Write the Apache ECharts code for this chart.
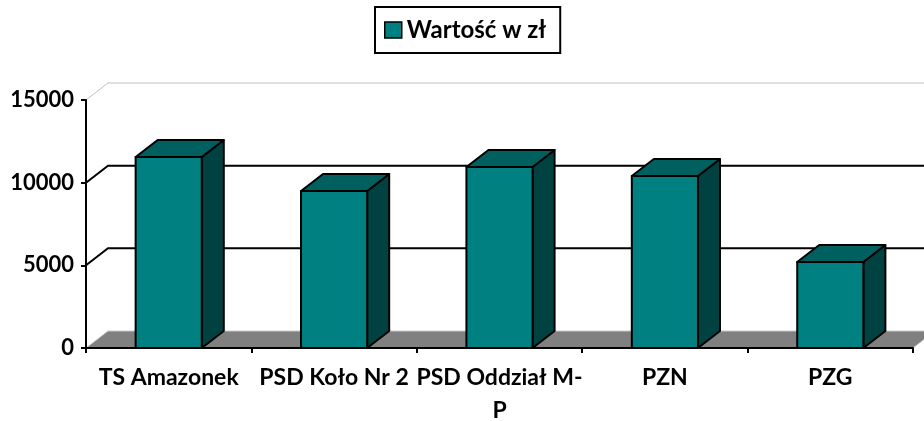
<!DOCTYPE html>
<html lang="pl">

<head>
  <meta charset="UTF-8">
  <title>Wartość w zł</title>
  <style>
    html, body { margin: 0; padding: 0; background: #fff; }
    #chart { width: 924px; height: 421px; }
  </style>
</head>

<body>
  <div id="chart"></div>

  <script src="https://cdn.jsdelivr.net/npm/echarts@6/dist/echarts.min.js"></script>
  <script>
    var categories = ['TS Amazonek', 'PSD Koło Nr 2', 'PSD Oddział M-P', 'PZN', 'PZG'];
    var values = [11550, 9500, 10950, 10400, 5200];
    var yTicks = [0, 5000, 10000, 15000];
    var seriesName = 'Wartość w zł';

    // depth of the fake 3d box, px
    var DX = 22, DY = -17;
    var FONT = 'Lato, "Open Sans", sans-serif';

    var chart = echarts.init(document.getElementById('chart'));

    function renderWalls(params, api) {
      var cs = params.coordSys;
      var L = cs.x, R = cs.x + cs.width;
      var kids = [];
      var y0 = api.coord([0, 0])[1];
      // floor
      kids.push({
        type: 'polygon',
        shape: { points: [[L, y0], [R, y0], [R + DX, y0 + DY], [L + DX, y0 + DY]] },
        style: { fill: '#808080', stroke: '#c8c8c8', lineWidth: 1 }
      });
      for (var i = 1; i < yTicks.length; i++) {
        var y = api.coord([0, yTicks[i]])[1];
        var last = i === yTicks.length - 1;
        kids.push({
          type: 'polyline',
          shape: { points: [[L, y], [L + DX, y + DY], [R + DX + 30, y + DY]] },
          style: { fill: null, stroke: last ? '#c0c0c0' : '#000', lineWidth: last ? 1 : 2 }
        });
      }
      return { type: 'group', children: kids };
    }

    function renderBar(params, api) {
      var c = api.coord([api.value(0), api.value(1)]);
      var b = api.coord([api.value(0), 0]);
      var w = api.size([1, 0])[0] * 0.4;
      var x = c[0] - w / 2, top = c[1], bot = b[1];
      var line = { stroke: '#000', lineWidth: 2, lineJoin: 'round' };
      return {
        type: 'group',
        children: [
          {
            type: 'polygon',
            shape: { points: [[x + w, top], [x + w + DX, top + DY], [x + w + DX, bot + DY], [x + w, bot]] },
            style: Object.assign({ fill: '#004242' }, line)
          },
          {
            type: 'polygon',
            shape: { points: [[x, top], [x + w, top], [x + w + DX, top + DY], [x + DX, top + DY]] },
            style: Object.assign({ fill: '#005f5f' }, line)
          },
          {
            type: 'rect',
            shape: { x: x, y: top, width: w, height: bot - top },
            style: Object.assign({ fill: '#008080' }, line)
          }
        ]
      };
    }

    var option = {
      animation: false,
      legend: {
        data: [seriesName],
        selectedMode: false,
        left: 375,
        top: 7,
        padding: [11, 14, 11, 9],
        borderColor: '#000',
        borderWidth: 2,
        icon: 'rect',
        itemWidth: 17,
        itemHeight: 16,
        itemStyle: { color: '#008080', borderColor: '#000', borderWidth: 1.5 },
        textStyle: { fontFamily: FONT, fontWeight: 'bold', fontSize: 24, color: '#000' }
      },
      grid: {
        left: 86,
        right: 11,
        top: 100,
        bottom: 73,
        outerBoundsMode: 'none'
      },
      xAxis: {
        type: 'category',
        data: categories,
        z: 10,
        axisLine: { lineStyle: { color: '#000', width: 2 } },
        axisTick: { show: true, length: 5, lineStyle: { color: '#000', width: 2 } },
        axisLabel: {
          interval: 0,
          margin: 13,
          color: '#000',
          fontFamily: FONT,
          fontWeight: 'bold',
          fontSize: 23,
          lineHeight: 33,
          formatter: function (v) { return v.replace('M-P', 'M-\nP'); }
        }
      },
      yAxis: {
        type: 'value',
        min: yTicks[0],
        max: yTicks[yTicks.length - 1],
        interval: 5000,
        z: 10,
        axisLine: { show: true, lineStyle: { color: '#000', width: 2 } },
        axisTick: { show: true, length: 5, lineStyle: { color: '#000', width: 2 } },
        splitLine: { show: false },
        axisLabel: {
          margin: 12,
          color: '#000',
          fontFamily: FONT,
          fontWeight: 'bold',
          fontSize: 22,
          formatter: function (v) { return String(v); }
        }
      },
      series: [
        {
          name: 'walls',
          type: 'custom',
          z: 1,
          silent: true,
          renderItem: renderWalls,
          data: [[0, 0]]
        },
        {
          name: seriesName,
          type: 'custom',
          z: 3,
          itemStyle: { color: '#008080' },
          renderItem: renderBar,
          data: values.map(function (v, i) { return [i, v]; })
        }
      ]
    };

    chart.setOption(option);
  </script>
</body>

</html>
